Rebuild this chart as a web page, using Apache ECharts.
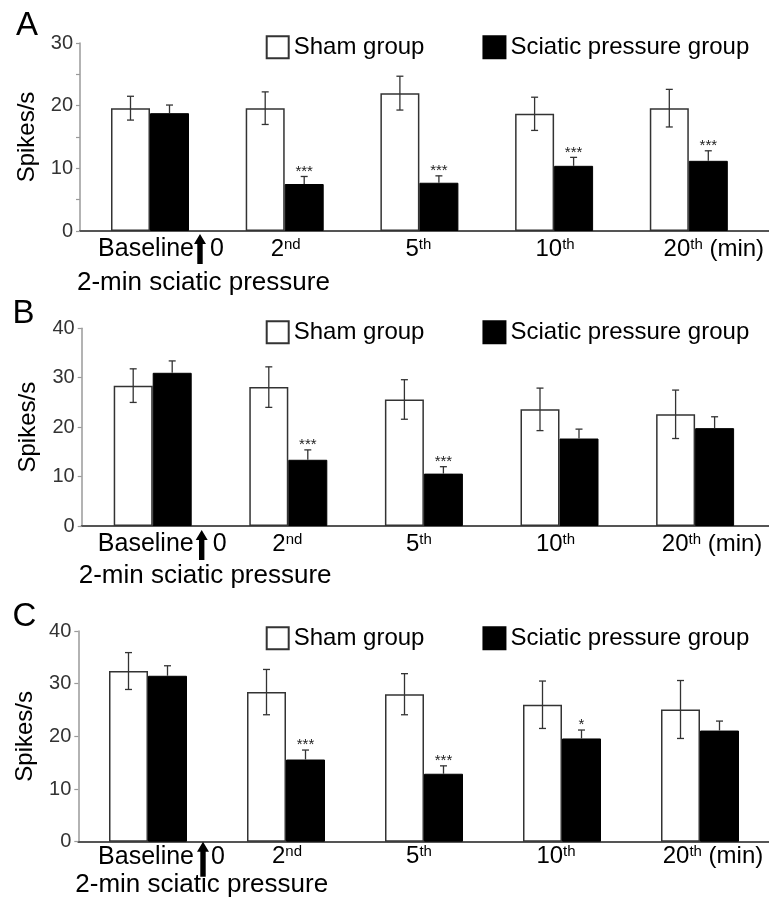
<!DOCTYPE html>
<html><head><meta charset="utf-8">
<script src="https://cdn.jsdelivr.net/npm/echarts@6/dist/echarts.min.js"></script>
<style>html,body{margin:0;padding:0;background:#fff}#c{width:769px;height:904px}</style>
</head><body><div id="c"></div>
<script>
// ---------- data ----------
const categories = ['Baseline', '2', '5', '10', '20'];
const catSup = ['', 'nd', 'th', 'th', 'th'];
const catSuffix = ['', '', '', '', ' (min)'];
const eventMark = '0';
const eventLabel = '2-min sciatic pressure';
const seriesNames = ['Sham group', 'Sciatic pressure group'];
const panelLetters = ['A', 'B', 'C'];
const yAxisName = 'Spikes/s';

const shamA = [19.6, 19.6, 22.0, 18.7, 19.6];
const shamA_se = [1.9, 2.6, 2.7, 2.65, 3.0];
const pressA = [18.8, 7.5, 7.7, 10.4, 11.2];
const pressA_se = [1.3, 1.2, 1.1, 1.35, 1.6];
const sigA = ['', '***', '***', '***', '***'];

const shamB = [28.4, 28.1, 25.6, 23.6, 22.6];
const shamB_se = [3.4, 4.1, 4.0, 4.3, 4.9];
const pressB = [31.0, 13.4, 10.6, 17.7, 19.8];
const pressB_se = [2.4, 2.0, 1.4, 1.9, 2.3];
const sigB = ['', '***', '***', '', ''];

const shamC = [32.4, 28.4, 28.0, 26.0, 25.1];
const shamC_se = [3.5, 4.3, 3.9, 4.5, 5.5];
const pressC = [31.5, 15.6, 12.9, 19.6, 21.1];
const pressC_se = [1.9, 1.8, 1.5, 1.6, 1.8];
const sigC = ['', '***', '***', '*', ''];

const yMaxes = [30, 40, 40];
const yTickSteps = [5, 10, 10];

const panelData = [
  {sham: shamA, shamSE: shamA_se, press: pressA, pressSE: pressA_se, sig: sigA},
  {sham: shamB, shamSE: shamB_se, press: pressB, pressSE: pressB_se, sig: sigB},
  {sham: shamC, shamSE: shamC_se, press: pressC, pressSE: pressC_se, sig: sigC}
];

// ---------- layout (styles only) ----------
const W = 769;
const FONT = '"Liberation Sans", Arial, Helvetica, sans-serif';
const layout = [
  {top: 43, zero: 231, axisX: 80, c0: 150, step: 134.7, legendTop: 35.2, letterTop: 9, letterLeft: 16,
   labelDy: 18, line2Dy: 52, arrow: [3, 33], labDx: [44, 1, -1, 1, 25], arrowDx: 50, zeroDx: 60},
  {top: 328.3, zero: 526, axisX: 81.7, c0: 152.7, step: 135.6, legendTop: 320.2, letterTop: 297, letterLeft: 12.5,
   labelDy: 18, line2Dy: 50, arrow: [4, 34], labDx: [41, -1, -5, -4, 17], arrowDx: 49, zeroDx: 60},
  {top: 631, zero: 841.7, axisX: 78.3, c0: 148, step: 138, legendTop: 626.2, letterTop: 600, letterLeft: 12.5,
   labelDy: 15, line2Dy: 43, arrow: [0, 35], labDx: [46, 1, -5, -6, 13], arrowDx: 55, zeroDx: 63}
];
const BAR_W = 39;

const option = {
  animation: false,
  backgroundColor: '#fff',
  title: [], grid: [], xAxis: [], yAxis: [], legend: [], series: []
};

function txt(text, x, y, align, size) {
  return {type: 'text', style: {text: text, x: x, y: y, align: align, textAlign: align,
    verticalAlign: 'middle', textVerticalAlign: 'middle', fontSize: size, fontFamily: FONT, fill: '#000'}};
}

layout.forEach((L, k) => {
  const D = panelData[k];
  option.title.push({
    text: panelLetters[k], left: L.letterLeft, top: L.letterTop, padding: 0,
    textStyle: {fontSize: 33, fontWeight: 'normal', color: '#000', fontFamily: FONT}
  });
  option.grid.push({left: L.axisX, right: 0, top: L.top, height: L.zero - L.top, containLabel: false});
  option.xAxis.push({
    type: 'value', gridIndex: k,
    min: -(L.c0 - L.axisX) / L.step, max: (W - L.c0) / L.step,
    axisLine: {show: true, onZero: false, lineStyle: {color: '#555', width: 2}},
    axisTick: {show: false}, axisLabel: {show: false}, splitLine: {show: false}
  });
  option.yAxis.push({
    type: 'value', gridIndex: k, min: 0, max: yMaxes[k], interval: yTickSteps[k],
    axisLine: {show: true, onZero: false, lineStyle: {color: '#9a9a9a', width: 1.5}},
    axisTick: {show: true, length: 4, lineStyle: {color: '#9a9a9a', width: 1.2}},
    axisLabel: {formatter: v => (v % 10 === 0 ? String(v) : ''), color: '#333', fontSize: 20, margin: 7, fontFamily: FONT},
    splitLine: {show: false},
    name: yAxisName, nameLocation: 'middle', nameGap: 41,
    nameTextStyle: {fontSize: 24, color: '#000', fontFamily: FONT}
  });
  option.legend.push({
    left: 265.7, top: L.legendTop, padding: 0, itemWidth: 22, itemHeight: 22, itemGap: 58,
    icon: 'rect', data: seriesNames, selectedMode: false,
    textStyle: {fontSize: 24, color: '#000', fontFamily: FONT}
  });
  option.series.push({
    type: 'bar', name: seriesNames[0], xAxisIndex: k, yAxisIndex: k,
    data: D.sham.map((v, i) => [i, v]), barWidth: BAR_W, barGap: '0%',
    itemStyle: {color: '#fff', borderColor: '#333', borderWidth: 1.5}, z: 2
  });
  option.series.push({
    type: 'bar', name: seriesNames[1], xAxisIndex: k, yAxisIndex: k,
    data: D.press.map((v, i) => [i, v]), barWidth: BAR_W, barGap: '0%',
    itemStyle: {color: '#000', borderColor: '#000', borderWidth: 1}, z: 2
  });
  // error bars - sham (both directions)
  option.series.push({
    type: 'custom', xAxisIndex: k, yAxisIndex: k, clip: false, silent: true, z: 5,
    data: D.sham.map((v, i) => [i, v, D.shamSE[i]]), encode: {x: 0, y: 1},
    renderItem: (params, api) => {
      const i = api.value(0), m = api.value(1), e = api.value(2);
      const t = api.coord([i, m + e]), b = api.coord([i, m - e]);
      const x = t[0] - BAR_W / 2;
      const st = {stroke: '#333', lineWidth: 1.3};
      return {type: 'group', children: [
        {type: 'line', shape: {x1: x, y1: t[1], x2: x, y2: b[1]}, style: st},
        {type: 'line', shape: {x1: x - 3.5, y1: t[1], x2: x + 3.5, y2: t[1]}, style: st},
        {type: 'line', shape: {x1: x - 3.5, y1: b[1], x2: x + 3.5, y2: b[1]}, style: st}
      ]};
    }
  });
  // error bars - pressure (upward only) + significance
  option.series.push({
    type: 'custom', xAxisIndex: k, yAxisIndex: k, clip: false, silent: true, z: 5,
    data: D.press.map((v, i) => [i, v, D.pressSE[i]]), encode: {x: 0, y: 1},
    renderItem: (params, api) => {
      const i = api.value(0), m = api.value(1), e = api.value(2);
      const t = api.coord([i, m + e]), b = api.coord([i, m]);
      const x = t[0] + BAR_W / 2;
      const st = {stroke: '#333', lineWidth: 1.3};
      const ch = [
        {type: 'line', shape: {x1: x, y1: t[1], x2: x, y2: b[1]}, style: st},
        {type: 'line', shape: {x1: x - 3.5, y1: t[1], x2: x + 3.5, y2: t[1]}, style: st}
      ];
      const s = D.sig[params.dataIndex];
      if (s) {
        ch.push({type: 'text', style: {text: s, x: x, y: t[1] - 5, align: 'center', textAlign: 'center',
          verticalAlign: 'middle', textVerticalAlign: 'middle', fontSize: 15, fontFamily: FONT, fill: '#222'}});
      }
      return {type: 'group', children: ch};
    }
  });
  // category labels
  option.series.push({
    type: 'custom', xAxisIndex: k, yAxisIndex: k, clip: false, silent: true, z: 6,
    data: categories.map((c, i) => [i, 0]), encode: {x: 0, y: 1},
    renderItem: (params, api) => {
      const i = params.dataIndex;
      const p = api.coord([i, 0]);
      const x = p[0], y = p[1];
      const ch = [];
      if (i === 0) {
        ch.push(txt(categories[i], x + L.labDx[0], y + L.labelDy, 'right', 25));
        const ax = x + L.arrowDx, y0 = y + L.arrow[0], y1 = y + L.arrow[1];
        ch.push({type: 'polygon', shape: {points: [[ax, y0], [ax + 6, y0 + 10], [ax + 2.7, y0 + 10], [ax + 2.7, y1],
          [ax - 2.7, y1], [ax - 2.7, y0 + 10], [ax - 6, y0 + 10]]}, style: {fill: '#000'}});
        ch.push(txt(eventMark, x + L.zeroDx, y + L.labelDy, 'left', 25));
        ch.push(txt(eventLabel, params.coordSys.x - 3, y + L.line2Dy, 'left', 26));
      } else {
        let t = '{m|' + categories[i] + '}{s|' + catSup[i] + '}';
        if (catSuffix[i]) t += '{m|' + catSuffix[i] + '}';
        ch.push({type: 'text', style: {
          text: t,
          rich: {m: {fontSize: 24, fontFamily: FONT, fill: '#000', color: '#000'},
                 s: {fontSize: 15, fontFamily: FONT, fill: '#000', color: '#000', verticalAlign: 'top'}},
          x: x + L.labDx[i], y: y + L.labelDy, align: 'center', textAlign: 'center',
          verticalAlign: 'middle', textVerticalAlign: 'middle', fontSize: 24, fontFamily: FONT, fill: '#000'}});
      }
      return {type: 'group', children: ch};
    }
  });
});

const chart = echarts.init(document.getElementById('c'), null, {renderer: 'canvas'});
chart.setOption(option);
</script>
</body></html>
